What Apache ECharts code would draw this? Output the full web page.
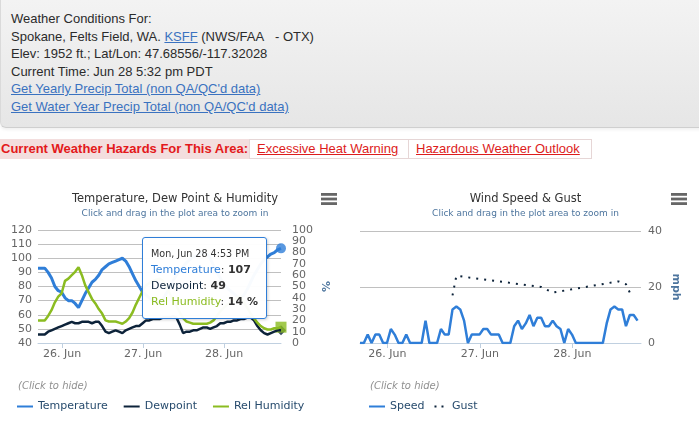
<!DOCTYPE html>
<html>
<head>
<meta charset="UTF-8">
<script src="https://cdn.jsdelivr.net/npm/echarts@6/dist/echarts.min.js"></script>
<style>
  body { margin: 0; width: 699px; height: 427px; overflow: hidden; background: #fff; position: relative;
         font-family: "Liberation Sans", Arial, sans-serif; }
  #info { position: absolute; left: 0; top: 0; width: 720px; height: 128px; box-sizing: border-box;
          background: linear-gradient(#f3f3f3, #e6e6e6); border-left: 1px solid #dadada;
          border-bottom: 1px solid #cfcfcf; border-bottom-left-radius: 6px;
          box-shadow: 0 2px 3px rgba(0,0,0,0.06);
          padding: 10px 0 0 10px; font-size: 13px; line-height: 17.6px; color: #2b2b2b; }
  #info a { color: #3a72c0; text-decoration: underline; }
  #hazards { position: absolute; left: 0; top: 139px; height: 20px; display: flex; font-size: 13px; line-height: 18px; }
  #hazards .lbl { width: 248px; padding-left: 1px; background: #f3dede; color: #e3191b; font-weight: bold;
                  border-top: 1px solid #f3dede; border-bottom: 1px solid #f3dede; }
  #hazards .cell { border: 1px solid #e6d6d6; box-sizing: border-box; height: 20px; }
  #hazards .cell a { color: #dd1c1c; text-decoration: underline; }
  .box { position: absolute; top: 178px; height: 238px; background: #fff; }
</style>
</head>
<body>
<div id="info">
  <div>Weather Conditions For:</div>
  <div>Spokane, Felts Field, WA. <a>KSFF</a> (NWS/FAA&nbsp;&nbsp; - OTX)</div>
  <div>Elev: 1952 ft.; Lat/Lon: 47.68556/-117.32028</div>
  <div>Current Time: Jun 28 5:32 pm PDT</div>
  <div><a>Get Yearly Precip Total (non QA/QC'd data)</a></div>
  <div><a>Get Water Year Precip Total (non QA/QC'd data)</a></div>
</div>
<div id="hazards">
  <div class="lbl">Current Weather Hazards For This Area:</div>
  <div class="cell" style="width:160px;padding-left:7px"><a>Excessive Heat Warning</a></div>
  <div class="cell" style="width:183px;padding-left:7px;border-left:none"><a>Hazardous Weather Outlook</a></div>
</div>
<div id="tempChart" class="box" style="left:0;width:350px"></div>
<div id="windChart" class="box" style="left:352px;width:347px"></div>

<script type="text/javascript">
// Hourly observations, Jun 25 4:53 PM to Jun 28 4:53 PM (PDT)
const HOUR = 3600 * 1000;
const firstObs = Date.UTC(2021, 5, 25, 16, 53);

const temperature = [93, 93, 93, 90, 86, 80, 77, 76, 72, 70, 70, 68, 65, 70, 75, 79, 83, 85, 88, 92,
  94, 96, 97, 98, 99, 100, 98, 94, 89, 84, 80, 76, 74, 72, 70, 69, 68, 71, 75, 79,
  84, 88, 91, 94, 97, 99, 101, 102, 103, 104, 103, 100, 95, 90, 86, 82, 79, 77, 75, 73,
  72, 74, 78, 83, 88, 92, 96, 99, 101, 103, 104, 106, 107];
const dewpoint = [46, 46, 46, 48, 49, 50, 51, 52, 53, 54, 55, 54, 54, 55, 55, 55, 54, 55, 55, 52,
  48, 47, 48, 49, 48, 47, 49, 50, 51, 52, 52, 54, 56, 56, 57, 57, 57, 58, 58, 58,
  59, 58, 53, 47, 48, 48, 49, 49, 50, 51, 51, 50, 51, 52, 54, 54, 55, 55, 56, 56,
  57, 57, 58, 58, 56, 52, 49, 47, 46, 47, 48, 49, 49];
const humidity = [20, 20, 20, 24, 29, 36, 41, 44, 55, 57, 60, 63, 67, 60, 51, 45, 39, 35, 30, 26,
  20, 19, 19, 19, 18, 17, 19, 22, 27, 34, 40, 46, 51, 53, 55, 56, 57, 55, 50, 44,
  38, 33, 27, 22, 19, 18, 17, 17, 17, 17, 17, 18, 20, 24, 28, 31, 34, 36, 38, 40,
  41, 36, 31, 26, 22, 18, 15, 13, 12, 12, 13, 13, 14];
const windSpeed = [0, 0, 3, 0, 3, 3, 0, 0, 5, 3, 0, 0, 3, 0, 0, 0, 0, 8, 0, 0,
  0, 5, 3, 3, 12, 13, 12, 8, 0, 3, 3, 3, 5, 5, 3, 3, 3, 0, 0, 0,
  6, 8, 5, 7, 10, 6, 9, 9, 6, 6, 8, 6, 5, 0, 5, 3, 0, 0, 0, 0,
  0, 0, 0, 0, 7, 12, 13, 12, 12, 6, 10, 10, 8];
const windGust = [null, null, null, null, null, null, null, null, null, null, null, null,
  null, null, null, null, null, null, null, null, null, null, null, null, 17, 24,
  null, null, null, null, null, null, null, null, null, null, null, null, null, null,
  null, null, null, null, null, null, null, 20, null, null, 18,
  null, null, null, null, null, null, null, null, null, null, null, null, null, null, null, null,
  22, null, 21, 18, null, null];

const dayTicks = [Date.UTC(2021, 5, 26), Date.UTC(2021, 5, 27), Date.UTC(2021, 5, 28)];
const dayLabels = ['26. Jun', '27. Jun', '28. Jun'];

const obsTimes = temperature.map((v, i) => firstObs + i * HOUR);
const last = obsTimes.length - 1;

const FONT = 'DejaVu Sans';
const C_TEMP = '#2f7ed8', C_DEW = '#0d233a', C_RH = '#8bbc21';

function pairs(values) {
  return obsTimes.map((t, i) => [t, values[i]]);
}

function tipHeader(t) {
  const d = new Date(t);
  const wd = ['Sun', 'Mon', 'Tue', 'Wed', 'Thu', 'Fri', 'Sat'][d.getUTCDay()];
  const mon = ['Jan', 'Feb', 'Mar', 'Apr', 'May', 'Jun', 'Jul', 'Aug', 'Sep', 'Oct', 'Nov', 'Dec'][d.getUTCMonth()];
  let h = d.getUTCHours();
  const ampm = h >= 12 ? 'PM' : 'AM';
  h = h % 12 || 12;
  const m = String(d.getUTCMinutes()).padStart(2, '0');
  return wd + ', ' + mon + ' ' + d.getUTCDate() + ' ' + h + ':' + m + ' ' + ampm;
}

function xAxisFor(maxTime) {
  return {
    type: 'value', min: obsTimes[0], max: maxTime,
    axisLine: { show: true, lineStyle: { color: '#C0D0E0' } },
    axisTick: { show: true, customValues: dayTicks, length: 5, lineStyle: { color: '#C0D0E0' } },
    axisLabel: { customValues: dayTicks, color: '#666', fontSize: 11, margin: 6,
                 formatter: v => dayLabels[dayTicks.indexOf(v)] },
    splitLine: { show: false }
  };
}

function titlesFor(text) {
  return [
    { text: text, left: 'center', top: 14, padding: 0,
      textStyle: { fontFamily: FONT, fontSize: 11.5, fontWeight: 'normal', color: '#333', lineHeight: 14 } },
    { text: 'Click and drag in the plot area to zoom in', left: 'center', top: 30, padding: 0,
      textStyle: { fontFamily: FONT, fontSize: 9, fontWeight: 'normal', color: '#4d759e', lineHeight: 12 } },
    { text: '(Click to hide)', left: 18, top: 202, padding: 0,
      textStyle: { fontFamily: FONT, fontSize: 10, fontStyle: 'italic', fontWeight: 'normal', color: '#909090', lineHeight: 12 } }
  ];
}

function menuIcon(x) {
  return [15, 19.6, 24.2].map(y => ({
    type: 'rect', left: x, top: y, shape: { width: 16, height: 2.8 }, style: { fill: '#666' }
  }));
}

function legendFor(items, gap) {
  return {
    left: 17, top: 223, padding: 0, itemWidth: 16, itemHeight: 2, itemGap: gap,
    textStyle: { color: '#274b6d', fontSize: 11, fontFamily: FONT },
    data: items
  };
}

// ---- Temperature, dew point & humidity
const tempChart = echarts.init(document.getElementById('tempChart'));
tempChart.setOption({
  animation: false,
  textStyle: { fontFamily: FONT },
  title: titlesFor('Temperature, Dew Point & Humidity'),
  graphic: menuIcon(321),
  grid: { left: 38, right: 69, top: 52, bottom: 73, outerBoundsMode: 'none' },
  xAxis: xAxisFor(obsTimes[last]),
  yAxis: [
    { type: 'value', min: 40, max: 120, interval: 10,
      axisLabel: { color: '#666', fontSize: 11, margin: 6 },
      axisLine: { show: false }, axisTick: { show: false },
      splitLine: { lineStyle: { color: '#C0C0C0' } } },
    { type: 'value', min: 0, max: 100, interval: 10, position: 'right',
      name: '%', nameLocation: 'middle', nameRotate: -90, nameGap: 38, nameMoveOverlap: false,
      nameTextStyle: { color: '#4d759e', fontWeight: 'bold', fontSize: 11 },
      axisLabel: { color: '#666', fontSize: 11, margin: 11 },
      axisLine: { show: false }, axisTick: { show: false }, splitLine: { show: false } }
  ],
  legend: legendFor([{ name: 'Temperature', icon: 'rect' }, { name: 'Dewpoint', icon: 'rect' }, { name: 'Rel Humidity', icon: 'rect' }], 16),
  tooltip: {
    trigger: 'item', triggerOn: 'none', alwaysShowContent: true, transitionDuration: 0,
    position: [142, 59], padding: [8, 8],
    backgroundColor: 'rgba(255,255,255,0.97)', borderColor: C_TEMP, borderWidth: 1, borderRadius: 3,
    textStyle: { fontFamily: FONT, fontSize: 11, color: '#333' },
    extraCssText: 'box-shadow:1px 1px 3px rgba(0,0,0,0.18);line-height:16px;',
    formatter: () =>
      '<div style="font-size:9.6px;line-height:16px">' + tipHeader(obsTimes[last]) + '</div>' +
      '<div><span style="color:' + C_TEMP + '">Temperature</span>: <b>' + temperature[last] + '</b></div>' +
      '<div><span style="color:' + C_DEW + '">Dewpoint</span>: <b>' + dewpoint[last] + '</b></div>' +
      '<div><span style="color:' + C_RH + '">Rel Humidity</span>: <b>' + humidity[last] + ' %</b></div>'
  },
  series: [
    { name: 'Temperature', type: 'line', data: pairs(temperature), symbol: 'none',
      lineStyle: { color: C_TEMP, width: 3 }, itemStyle: { color: C_TEMP }, emphasis: { disabled: true } },
    { name: 'Dewpoint', type: 'line', data: pairs(dewpoint), symbol: 'none',
      lineStyle: { color: C_DEW, width: 2.5 }, itemStyle: { color: C_DEW }, emphasis: { disabled: true } },
    { name: 'Rel Humidity', type: 'line', yAxisIndex: 1, data: pairs(humidity), symbol: 'none',
      lineStyle: { color: C_RH, width: 2.5 }, itemStyle: { color: C_RH }, emphasis: { disabled: true } },
    { name: 'tempNow', type: 'scatter', clip: false, data: [[obsTimes[last], temperature[last]]],
      symbol: 'circle', symbolSize: 10, itemStyle: { color: C_TEMP }, emphasis: { disabled: true } },
    { name: 'dewNow', type: 'scatter', clip: false, data: [[obsTimes[last], dewpoint[last]]],
      symbol: 'diamond', symbolSize: 10, itemStyle: { color: C_DEW }, emphasis: { disabled: true } },
    { name: 'rhNow', type: 'scatter', clip: false, yAxisIndex: 1, data: [[obsTimes[last], humidity[last]]],
      symbol: 'rect', symbolSize: 11, itemStyle: { color: C_RH }, emphasis: { disabled: true } }
  ]
});
tempChart.dispatchAction({ type: 'showTip', seriesIndex: 3, dataIndex: 0 });

// ---- Wind speed & gust
const windChart = echarts.init(document.getElementById('windChart'));
windChart.setOption({
  animation: false,
  textStyle: { fontFamily: FONT },
  title: titlesFor('Wind Speed & Gust'),
  graphic: menuIcon(319),
  grid: { left: 8, right: 58, top: 53, bottom: 73, outerBoundsMode: 'none' },
  xAxis: xAxisFor(obsTimes[last] + 0.9 * HOUR),
  yAxis: {
    type: 'value', min: 0, max: 40, interval: 20, position: 'right',
    name: 'mph', nameLocation: 'middle', nameRotate: -90, nameGap: 29, nameMoveOverlap: false,
    nameTextStyle: { color: '#4d759e', fontWeight: 'bold', fontSize: 11 },
    axisLabel: { color: '#666', fontSize: 11, margin: 7 },
    axisLine: { show: false }, axisTick: { show: false },
    splitLine: { lineStyle: { color: '#C0C0C0' } }
  },
  legend: legendFor([{ name: 'Speed', icon: 'rect' }, { name: 'Gust', icon: 'path://M0 0h2v2H0zM7 0h2v2H7z' }], 10),
  series: [
    { name: 'Speed', type: 'line', data: pairs(windSpeed), symbol: 'none',
      lineStyle: { color: C_TEMP, width: 2.5 }, itemStyle: { color: C_TEMP }, emphasis: { disabled: true } },
    { name: 'Gust', type: 'line', data: pairs(windGust), symbol: 'none', connectNulls: true,
      lineStyle: { color: C_DEW, width: 2, type: [2, 6], cap: 'butt' }, itemStyle: { color: C_DEW },
      emphasis: { disabled: true } }
  ]
});
</script>
</body>
</html>
